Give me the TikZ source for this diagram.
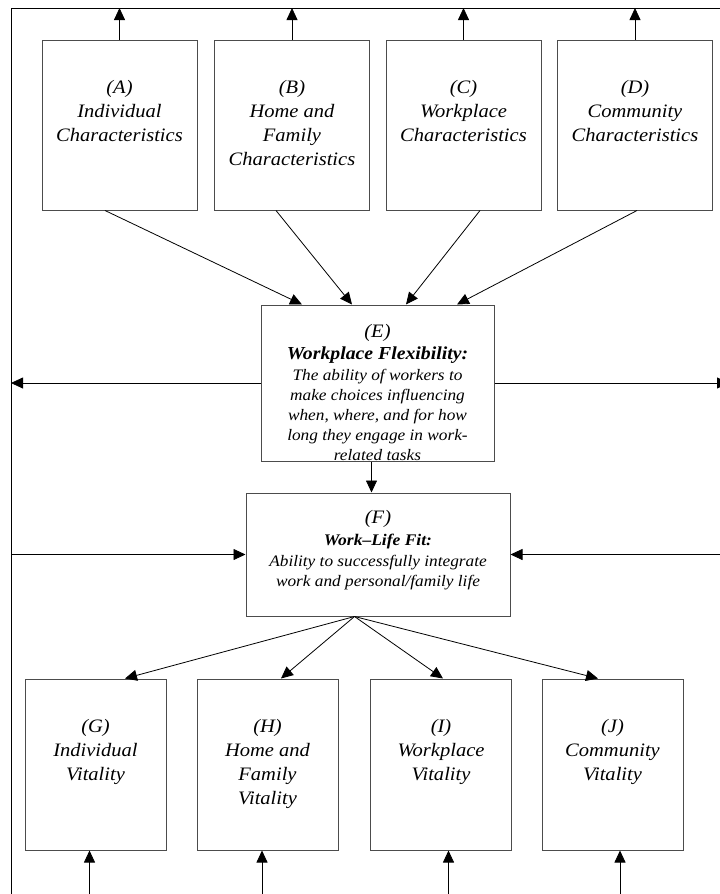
\documentclass[tikz,border=0pt]{standalone}
\usepackage{fontspec}
\setmainfont{Liberation Serif}[FakeStretch=1.08]
\usetikzlibrary{arrows.meta}

\tikzset{
 box/.style={draw=black!70,line width=1pt,inner sep=0pt},
 lbl/.style={font=\fontsize{19}{24}\selectfont\itshape,align=center,anchor=north,inner sep=0pt},
 txt/.style={font=\fontsize{16}{20}\selectfont\itshape,align=center,anchor=north,inner sep=0pt},
 arr/.style={-{Triangle[length=12pt,width=11pt]},line width=0.8pt}
}

\begin{document}
\begin{tikzpicture}[x=1pt,y=-1pt]
\useasboundingbox (0,0) rectangle (720,894);
% outer frame
\coordinate (tl) at (11,8);
\draw[line width=0.8pt] (11,900) -- (tl) -- (730,8);

% characteristics
\foreach \n/\x/\t in {A/119.5/{(A)\\Individual\\Characteristics},
 B/292/{(B)\\Home and\\Family\\Characteristics},
 C/463.5/{(C)\\Workplace\\Characteristics},
 D/635/{(D)\\Community\\Characteristics}} {
 \node[box,minimum width=155pt,minimum height=170pt] (\n) at (\x,125) {};
 \node[lbl] (\n-t) at ([yshift=-41pt]\n.north) {\t};
 \coordinate (\n-up) at (\x,8);
 \draw[arr] (\n.north) -- (\n-up);
}

\node[box,minimum width=233pt,minimum height=156pt] (E) at (377.5,383) {};
\node[txt] (E-t) at ([yshift=-19.5pt]E.north)
 {{\fontsize{19}{20}\selectfont (E)}\\[2pt]
 {\fontsize{18.3}{20}\selectfont\bfseries Workplace Flexibility:}\\[1pt]
 The ability of workers to\\ make choices influencing\\
 when, where, and for how\\ long they engage in work-\\ related tasks};

\node[box,minimum width=264pt,minimum height=123pt] (F) at (378,554.5) {};
\node[txt] (F-t) at ([yshift=-17.5pt]F.north)
 {{\fontsize{19}{20}\selectfont (F)}\\[2pt]
 {\fontsize{16.2}{20}\selectfont\bfseries Work--Life Fit:}\\[1pt]
 Ability to successfully integrate\\ work and personal/family life};

\foreach \n/\a/\b in {A/-14.5/-75.5,B/-16/-25.5,C/16.5/28.5,D/2/79.5}
 \draw[arr] ([xshift=\a pt]\n.south) -- ([xshift=\b pt]E.north);

\coordinate (lE) at (11,383);
\coordinate (rE) at (729,383);
\draw[arr] (E.west) -- (lE);
\draw[arr] (E.east) -- (rE);
\draw[arr] ([xshift=-6pt]E.south) -- ([xshift=-6pt]E.south |- F.north);
\coordinate (lF) at (11,554.5);
\coordinate (rF) at (730,554.5);
\draw[arr] (lF) -- (F.west);
\draw[arr] (rF) -- (F.east);

% vitality
\foreach \n/\x/\t/\s in {G/95.5/{(G)\\Individual\\Vitality}/-6,
 H/267.5/{(H)\\Home and\\Family\\Vitality}/-5.5,
 I/441/{(I)\\Workplace\\Vitality}/7.5,
 J/612.5/{(J)\\Community\\Vitality}/7.5} {
 \node[box,minimum width=141pt,minimum height=171pt] (\n) at (\x,764.5) {};
 \node[lbl] (\n-t) at ([yshift=-41pt]\n.north) {\t};
 \coordinate (\n-in) at (\x+\s,900);
 \draw[arr] (\n-in) -- (\n.south -| \n-in);
}

\coordinate (Fo) at ([xshift=-23.5pt]F.south);
\foreach \n/\b in {G/29.5,H/13.5,I/2,J/-14.5}
 \draw[arr] (Fo) -- ([xshift=\b pt]\n.north);
\end{tikzpicture}
\end{document}
